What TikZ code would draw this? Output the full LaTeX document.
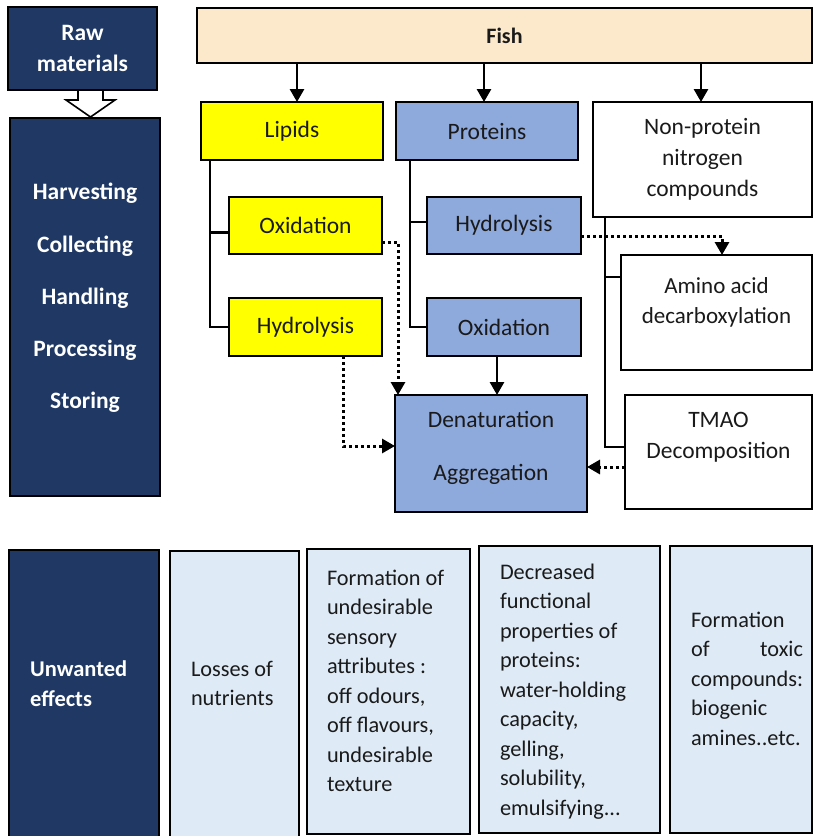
\documentclass[tikz,border=0pt]{standalone}
\usepackage{fontspec}
\setmainfont{Carlito}
\usetikzlibrary{arrows.meta}

\definecolor{navy}{HTML}{1F3864}
\definecolor{fishfill}{HTML}{FCE9CC}
\definecolor{lipidfill}{HTML}{FFFF00}
\definecolor{protfill}{HTML}{8EA9DB}
\definecolor{effectfill}{HTML}{DEEAF6}
\definecolor{txt}{HTML}{1A1A1A}

\begin{document}
\begin{tikzpicture}[x=1pt,y=-1pt,
  box/.style={draw=black, line width=2pt, inner sep=0pt, outer sep=0pt,
    font=\fontsize{23.5}{31}\selectfont, text=txt, align=center},
  darkbox/.style={box, fill=navy, text=white,
    font=\fontsize{23.5}{31}\selectfont\bfseries},
  effect/.style={box, fill=effectfill},
  label/.style={inner sep=0pt, outer sep=0pt, text=txt, align=left,
    font=\fontsize{22.3}{29.5}\selectfont, anchor=north west},
  tree/.style={draw=black, line width=2.8pt},
  arr/.style={draw=black, line width=2.8pt, -{Triangle[width=14pt,length=13pt]}},
  dot/.style={draw=black, line width=3pt, dash pattern=on 3pt off 3pt,
    -{Triangle[width=14pt,length=13pt]}}
]
\useasboundingbox (0,0) rectangle (815,836);

% ---- left column: stages ----
\node[darkbox, minimum width=149pt, minimum height=83pt] (raw) at (82.5,48.5)
  {Raw\\materials};
\node[darkbox, minimum width=150pt, minimum height=378pt] (stages) at (85,307) {};
\node[inner sep=0pt, text=white, align=center,
  font=\fontsize{23.5}{52.2}\selectfont\bfseries] (stagetext) at (85,298)
  {Harvesting\\Collecting\\Handling\\Processing\\Storing};

% hollow arrow from raw materials to stages
\draw[line width=1.6pt, fill=white]
  (78,90) -- (103,90) -- (103,100) -- (115,100) -- (90.5,117)
  -- (66,100) -- (78,100) -- cycle;

% ---- fish and its components ----
\node[box, fill=fishfill, minimum width=615pt, minimum height=55pt,
  font=\fontsize{22}{31}\selectfont\bfseries] (fish) at (504.5,35.5) {Fish};

\node[box, fill=lipidfill, minimum width=182pt, minimum height=58pt] (lipids)
  at (292,131) {Lipids};
\node[box, fill=protfill, minimum width=182pt, minimum height=58pt] (proteins)
  at (487,131) {Proteins};
\node[box, fill=white, minimum width=219pt, minimum height=115pt] (npn)
  at (702.5,159.5) {Non-protein\\nitrogen\\compounds};

\draw[arr] ([xshift=5pt]fish.south -| lipids.north) -- ([xshift=5pt]lipids.north);
\draw[arr] ([xshift=-3pt]fish.south -| proteins.north) -- ([xshift=-3pt]proteins.north);
\draw[arr] ([xshift=-1.5pt]fish.south -| npn.north) -- ([xshift=-1.5pt]npn.north);

% lipid reactions
\node[box, fill=lipidfill, minimum width=153pt, minimum height=57pt] (lox)
  at (305.5,225.5) {Oxidation};
\node[box, fill=lipidfill, minimum width=153pt, minimum height=58pt] (lhy)
  at (305.5,327) {Hydrolysis};
\draw[tree] ([xshift=9pt]lipids.south west) |- ([yshift=-7pt]lox.west);
\draw[tree] ([xshift=9pt]lipids.south west) |- (lhy.west);

% protein reactions
\node[box, fill=protfill, minimum width=154pt, minimum height=57pt] (phy)
  at (504,225.5) {Hydrolysis};
\node[box, fill=protfill, minimum width=154pt, minimum height=58pt] (pox)
  at (504,327) {Oxidation};
\draw[tree] ([xshift=14pt]proteins.south west) |- ([yshift=3.5pt]phy.west);
\draw[tree] ([xshift=14pt]proteins.south west) |- (pox.west);

% non-protein nitrogen reactions
\node[box, fill=white, minimum width=191pt, minimum height=115pt] (amino)
  at (716.5,312.5) {};
\node[inner sep=0pt, align=center, text=txt,
  font=\fontsize{23}{30}\selectfont] (aminotext) at (716.5,302.5)
  {Amino acid\\decarboxylation};
\node[box, fill=white, minimum width=187pt, minimum height=114pt] (tmao)
  at (718.5,452) {};
\node[inner sep=0pt, align=center, text=txt,
  font=\fontsize{23.5}{31}\selectfont] (tmaotext) at (718.5,437)
  {TMAO\\Decomposition};
\draw[tree] ([xshift=12pt]npn.south west) |- ([yshift=35.5pt]amino.west);
\draw[tree] ([xshift=12pt]npn.south west) |- ([yshift=5pt]tmao.west);

% denaturation / aggregation
\node[box, fill=protfill, minimum width=192pt, minimum height=117pt] (denat)
  at (491,453.5) {};
\node[inner sep=0pt, align=center, text=txt,
  font=\fontsize{23.5}{53}\selectfont] (denattext) at (491,448)
  {Denaturation\\Aggregation};

\draw[arr] ([xshift=-7pt]pox.south) -- ([xshift=-7pt]pox.south |- denat.north);
\draw[dot] ([yshift=-16.5pt]lox.east) -| ([xshift=3pt]denat.north west);
\draw[dot] ([xshift=37.5pt]lhy.south) |- ([yshift=7.5pt]denat.west);
\draw[dot] ([yshift=-10.5pt]phy.east) -| ([xshift=5.5pt]amino.north);
\draw[dot] ([yshift=-15pt]tmao.west) -- ([yshift=-13.5pt]denat.east);

% ---- unwanted effects ----
\node[darkbox, minimum width=150pt, minimum height=300pt] (unwanted)
  at (84,700) {};
\node[inner sep=0pt, anchor=north west, text=white, align=left,
  font=\fontsize{22.5}{30}\selectfont\bfseries] (unwantedtext) at (30,661)
  {Unwanted\\effects};

\node[effect, minimum width=129pt, minimum height=300pt] (e1) at (234.5,701) {};
\node[label] (e1text) at (191,661) {Losses of\\nutrients};

\node[effect, minimum width=163pt, minimum height=285pt] (e2) at (388.5,691.5) {};
\node[label] (e2text) at (327,570)
  {Formation of\\undesirable\\sensory\\attributes :\\off odours,\\off flavours,\\undesirable\\texture};

\node[effect, minimum width=181pt, minimum height=287pt] (e3) at (569.5,689.5) {};
\node[label] (e3text) at (500,564)
  {Decreased\\functional\\properties of\\proteins:\\water-holding\\capacity,\\gelling,\\solubility,\\emulsifying...};

\node[effect, minimum width=142pt, minimum height=287pt] (e4) at (741,689.5) {};
\node[label, text width=112pt] (e4text) at (691,612)
  {Formation\\of\hfill toxic\\compounds:\\biogenic\\amines..etc.};
\end{tikzpicture}
\end{document}
